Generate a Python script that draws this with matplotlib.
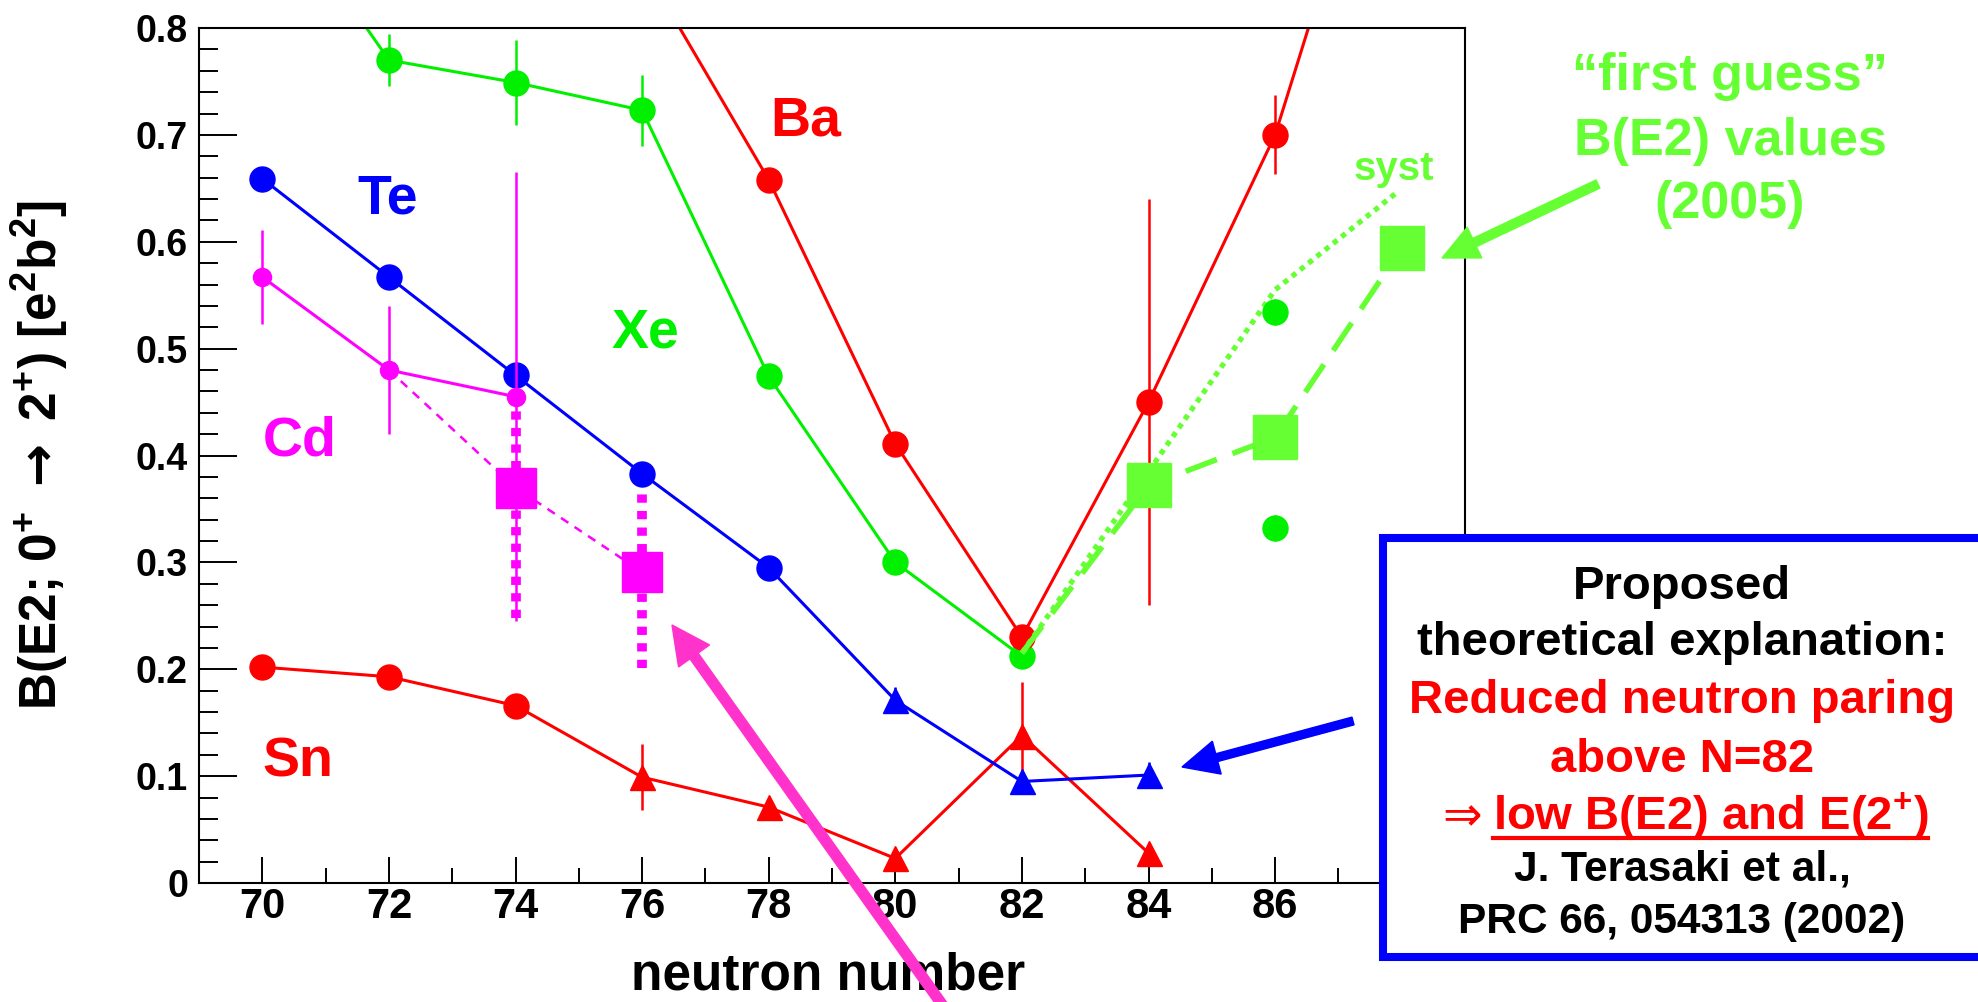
import matplotlib
matplotlib.use('Agg')
import matplotlib.pyplot as plt
import numpy as np
from matplotlib.patches import Rectangle, FancyArrow
from matplotlib.lines import Line2D
from matplotlib.transforms import Affine2D
from matplotlib.ticker import MultipleLocator, FuncFormatter

# B(E2; 0+ -> 2+) in e^2 b^2 versus neutron number
sn_n = [70, 72, 74, 76, 78, 80, 82, 84]
sn_b = [0.202, 0.193, 0.166, 0.099, 0.071, 0.023, 0.138, 0.028]
sn_err = [0, 0, 0, 0.031, 0, 0, 0.05, 0]

te_n = [70, 72, 74, 76, 78, 80, 82, 84]
te_b = [0.659, 0.567, 0.475, 0.383, 0.295, 0.171, 0.095, 0.101]
te_err = [0, 0, 0, 0, 0, 0.012, 0, 0.012]

cd_n = [70, 72, 74]
cd_b = [0.567, 0.48, 0.455]
cd_err = [0.044, 0.06, 0.21]

# magenta squares (Cd, new values) with asymmetric errors
cdn_n = [74, 76]
cdn_b = [0.370, 0.291]
cdn_lo = [0.122, 0.090]
cdn_hi = [0.085, 0.075]
cd_dash_n = [72, 74, 76]
cd_dash_b = [0.48, 0.370, 0.291]

xe_n = [70, 72, 74, 76, 78, 80, 82]
xe_b = [0.94, 0.770, 0.749, 0.723, 0.474, 0.300, 0.212]
xe_err = [0, 0.024, 0.04, 0.033, 0, 0.01, 0]
xe86_n = [86, 86]
xe86_b = [0.534, 0.332]
xe86_err = [0.012, 0.012]

ba_n = [76, 78, 80, 82, 84, 86, 88]
ba_b = [0.86, 0.658, 0.411, 0.230, 0.450, 0.700, 1.08]
ba_err = [0, 0, 0, 0.01, 0.19, 0.037, 0]

# "first guess" values (2005) and systematics
guess_n = [84, 86, 88]
guess_b = [0.372, 0.417, 0.594]
guess_line_n = [82, 84, 86, 88]
guess_line_b = [0.215, 0.372, 0.417, 0.594]
syst_n = [82, 86, 87.9]
syst_b = [0.215, 0.555, 0.645]

RED = '#ff0000'
BLUE = '#0000ff'
MAG = '#ff00ff'
XE = '#00f000'
LG = '#66ff33'

plt.rcParams.update({
    'font.family': ['Liberation Sans', 'DejaVu Sans'],
    'font.weight': 'bold',
    'mathtext.fontset': 'custom',
    'mathtext.rm': 'Liberation Sans:bold',
    'mathtext.it': 'Liberation Sans:bold',
    'mathtext.bf': 'Liberation Sans:bold',
    'mathtext.sf': 'DejaVu Sans',
})

W, H = 1978, 1002
fig = plt.figure(figsize=(W / 100, H / 100), dpi=100)
ax = fig.add_axes([199 / W, 1 - 883 / H, (1465 - 199) / W, (883 - 28) / H])
# pixel coordinates of the picture (y downwards) for annotations
px = Affine2D().scale(1 / W, -1 / H).translate(0, 1) + fig.transFigure

lw = 2.2
ms = 18

# Sn
sn_n_a, sn_b_a = np.array(sn_n), np.array(sn_b)
ax.errorbar(sn_n, sn_b, yerr=sn_err, fmt='none', ecolor=RED, elinewidth=1.8)
ax.plot(sn_n, sn_b, '-', color=RED, lw=lw)
ax.plot(sn_n_a[sn_n_a < 76], sn_b_a[sn_n_a < 76], 'o', color=RED, ms=ms)
ax.plot(sn_n_a[sn_n_a >= 76], sn_b_a[sn_n_a >= 76], '^', color=RED, ms=ms)

# Te
te_n_a, te_b_a = np.array(te_n), np.array(te_b)
ax.errorbar(te_n, te_b, yerr=te_err, fmt='none', ecolor=BLUE, elinewidth=1.8)
ax.plot(te_n, te_b, '-', color=BLUE, lw=lw)
ax.plot(te_n_a[te_n_a < 80], te_b_a[te_n_a < 80], 'o', color=BLUE, ms=ms)
ax.plot(te_n_a[te_n_a >= 80], te_b_a[te_n_a >= 80], '^', color=BLUE, ms=ms)

# Cd
ax.errorbar(cd_n, cd_b, yerr=cd_err, fmt='none', ecolor=MAG, elinewidth=1.8)
ax.plot(cd_n, cd_b, '-o', color=MAG, lw=lw, ms=13)
ax.plot(cd_dash_n, cd_dash_b, color=MAG, lw=1.8, dashes=(3.5, 3))
for n, b, lo, hi in zip(cdn_n, cdn_b, cdn_lo, cdn_hi):
    ax.plot([n, n], [b - lo, b + hi], color=MAG, lw=7, dashes=(0.85, 0.85))
ax.plot(cdn_n, cdn_b, 's', color=MAG, ms=29, ls='none')

# Xe
ax.errorbar(xe_n, xe_b, yerr=xe_err, fmt='none', ecolor=XE, elinewidth=1.8)
ax.plot(xe_n, xe_b, '-o', color=XE, lw=lw, ms=ms)
ax.errorbar(xe86_n, xe86_b, yerr=xe86_err, fmt='o', color=XE, ms=ms,
            elinewidth=1.8)

# Ba
ax.errorbar(ba_n, ba_b, yerr=ba_err, fmt='none', ecolor=RED, elinewidth=1.8)
ax.plot(ba_n, ba_b, '-o', color=RED, lw=lw, ms=ms)

# first guess + syst
ax.plot(syst_n, syst_b, color=LG, lw=3.8, dashes=(1, 1))
ax.plot(guess_line_n, guess_line_b, color=LG, lw=4, dashes=(6, 3))
ax.plot(guess_n, guess_b, 's', color=LG, ms=31.5, ls='none')

ax.set_xlim(69, 89)
ax.set_ylim(0, 0.8)
ax.xaxis.set_major_locator(MultipleLocator(2))
ax.xaxis.set_minor_locator(MultipleLocator(1))
ax.yaxis.set_major_locator(MultipleLocator(0.1))
ax.yaxis.set_minor_locator(MultipleLocator(0.02))
ax.yaxis.set_major_formatter(FuncFormatter(lambda v, p: '%g' % round(v, 2)))
ax.tick_params(axis='both', which='both', direction='in', width=1.4,
               top=False, right=False)
ax.tick_params(axis='y', which='major', length=27, labelsize=27, pad=8)
ax.tick_params(axis='y', which='minor', length=14)
ax.tick_params(axis='x', which='major', length=19, labelsize=30, pad=3)
ax.tick_params(axis='x', which='minor', length=11)
for s in ax.spines.values():
    s.set_linewidth(1.5)
for lab in ax.get_xticklabels() + ax.get_yticklabels():
    lab.set_fontweight('bold')


def ptext(x, y, s, size, color='black', ha='center', weight='bold', **kw):
    return fig.text(x, y, s, transform=px, fontsize=size, color=color,
                    ha=ha, va='baseline', fontweight=weight, zorder=4, **kw)


# axis titles
fig.text(40, 455,
         r'B(E2; 0$^{+}$ $\mathsf{\rightarrow}$ 2$^{+}$) [e$^{2}$b$^{2}$]',
         transform=px, rotation=90, ha='center', va='center', fontsize=37,
         fontweight='bold')
ptext(828, 990, 'neutron number', 37)

# element labels
ptext(388, 213, 'Te', 40, BLUE)
ptext(300, 455, 'Cd', 40, MAG)
ptext(645, 348, 'Xe', 40, XE)
ptext(298, 777, 'Sn', 40, RED)
ptext(806, 135, 'Ba', 40, RED)
ptext(1394, 180, 'syst', 29, LG)

ptext(1730, 90, '\u201cfirst guess\u201d', 37.5, LG)
ptext(1730, 155, 'B(E2) values', 37.5, LG)
ptext(1730, 218, '(2005)', 37.5, LG)

# explanation box
box = Rectangle((1383, 538), 620, 419, transform=px, facecolor='white',
                edgecolor=BLUE, lw=5.8, zorder=2)
fig.add_artist(box)
ptext(1682, 599, 'Proposed', 34)
ptext(1682, 655, 'theoretical explanation:', 34)
ptext(1682, 713, 'Reduced neutron paring', 34, RED)
ptext(1682, 772, 'above N=82', 34, RED)
ptext(1482, 830, '\u21d2', 34, RED, ha='right', weight='normal',
      family='DejaVu Sans')
ul = ptext(1493, 830, 'low B(E2) and E(2$^{+}$)', 34, RED, ha='left')
ptext(1682, 881, 'J. Terasaki et al.,', 30.5)
ptext(1682, 933, 'PRC 66, 054313 (2002)', 30.5)

# underline under the conclusion (display x equals picture x at dpi 100)
fig.canvas.draw()
bb = ul.get_window_extent()
fig.add_artist(Line2D([bb.x0, bb.x1], [838, 838], transform=px, lw=3,
                      color=RED, zorder=4))

# arrows
fig.add_artist(FancyArrow(946, 1010, 672 - 946, 625 - 1010, width=10,
                          head_width=38, head_length=38,
                          length_includes_head=True, transform=px,
                          color='#ff33cc', zorder=5))
fig.add_artist(FancyArrow(1353, 721, 1182 - 1353, 767 - 721, width=8,
                          head_width=34, head_length=36,
                          length_includes_head=True, transform=px,
                          color=BLUE, zorder=5))
fig.add_artist(FancyArrow(1598, 184, 1442 - 1598, 258 - 184, width=9,
                          head_width=34, head_length=36,
                          length_includes_head=True, transform=px,
                          color=LG, zorder=5))

fig.savefig('out.png', dpi=100)
